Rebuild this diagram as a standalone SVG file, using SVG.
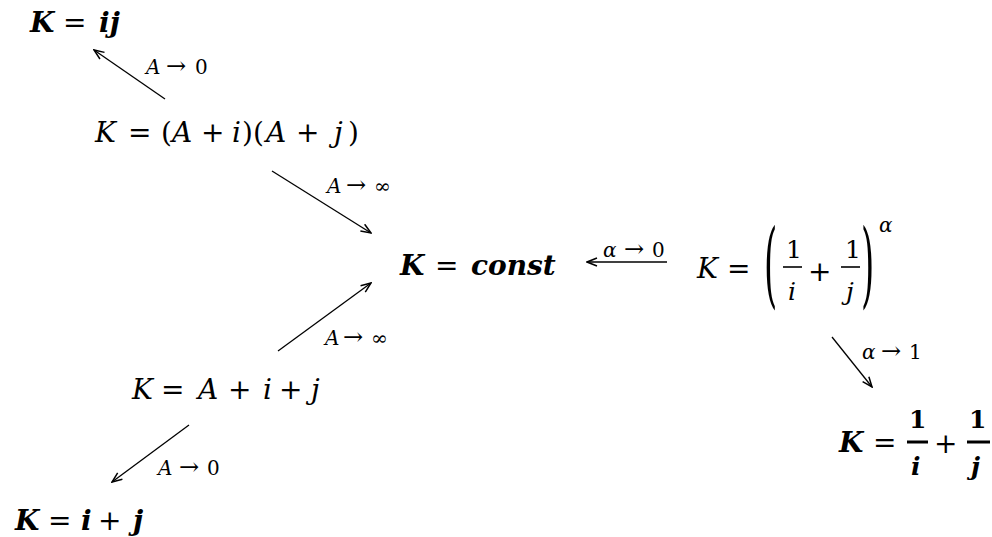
<svg xmlns="http://www.w3.org/2000/svg" width="992" height="537" viewBox="0 0 992 537">
<style>
  text { font-family: "DejaVu Serif", "Liberation Serif", serif; fill: #000; }
  .m { font-size: 28px; }
  .f { font-size: 25px; }
  .l { font-size: 20px; }
  .ar { font-size: 24px; }
  .it { font-style: italic; }
  .bi { font-style: italic; font-weight: bold; }
  .bu { font-weight: bold; }
  .conn line { stroke: #000; stroke-width: 1.3; fill: none; marker-end: url(#arr); }
  .bar { stroke: #000; stroke-width: 1.6; }
  .barb { stroke: #000; stroke-width: 3; }
</style>
<defs>
  <marker id="arr" viewBox="0 0 12 10" refX="11" refY="5" markerWidth="12" markerHeight="10" markerUnits="userSpaceOnUse" orient="auto">
    <path d="M1,1 L11,5 L1,9" fill="none" stroke="#000" stroke-width="1.5"/>
  </marker>
</defs>
<rect width="992" height="537" fill="#fff"/>

<g id="n-ij">
  <text class="m" y="32"><tspan class="bi" x="30">K</tspan><tspan x="63">=</tspan><tspan class="bi" x="99">ij</tspan></text>
</g>

<g id="n-prod">
  <text class="m" y="142"><tspan class="it" x="95">K</tspan><tspan x="128">=</tspan><tspan x="161">(</tspan><tspan class="it" x="172">A</tspan><tspan x="201">+</tspan><tspan class="it" x="232">i</tspan><tspan x="242">)</tspan><tspan x="253">(</tspan><tspan class="it" x="266">A</tspan><tspan x="296">+</tspan><tspan class="it" x="334">j</tspan><tspan x="348">)</tspan></text>
</g>

<g id="n-const">
  <text class="m" y="275"><tspan class="bi" x="400">K</tspan><tspan x="435">=</tspan><tspan class="bi" x="471">const</tspan></text>
</g>

<g id="n-power">
  <text class="m" y="278"><tspan class="it" x="697">K</tspan><tspan x="727">=</tspan></text>
  <text transform="translate(764,295.5) scale(1,2.74)" style="font-size:34px">(</text>
  <text class="f" y="258" x="786">1</text>
  <line class="bar" x1="783" y1="267" x2="802" y2="267"/>
  <text class="f it" y="300" x="788">i</text>
  <text class="m" y="281" x="808">+</text>
  <text class="f" y="258" x="845">1</text>
  <line class="bar" x1="841" y1="267" x2="860" y2="267"/>
  <text class="f it" y="300" x="846">j</text>
  <text transform="translate(861,295.5) scale(1,2.74)" style="font-size:34px">)</text>
  <text class="l it" x="879" y="232">α</text>
</g>

<g id="n-sum">
  <text class="m" y="399"><tspan class="it" x="132">K</tspan><tspan x="161">=</tspan><tspan class="it" x="198">A</tspan><tspan x="228">+</tspan><tspan class="it" x="263">i</tspan><tspan x="279">+</tspan><tspan class="it" x="311">j</tspan></text>
</g>

<g id="n-ipj">
  <text class="m" y="530"><tspan class="bi" x="15">K</tspan><tspan x="48">=</tspan><tspan class="bi" x="81">i</tspan><tspan x="98">+</tspan><tspan class="bi" x="133">j</tspan></text>
</g>

<g id="n-recip">
  <text class="m" y="452"><tspan class="bi" x="839">K</tspan><tspan x="873">=</tspan></text>
  <text class="f bu" y="428" x="909">1</text>
  <line class="barb" x1="907" y1="442" x2="928" y2="442"/>
  <text class="f bi" y="475" x="911">i</text>
  <text class="m" y="453" x="934">+</text>
  <text class="f bu" y="428" x="969">1</text>
  <line class="barb" x1="967" y1="442" x2="990" y2="442"/>
  <text class="f bi" y="475" x="971">j</text>
</g>

<g id="connectors" class="conn">
  <line x1="165" y1="99" x2="94" y2="50"/>
  <line x1="272" y1="171" x2="371" y2="233"/>
  <line x1="667" y1="262" x2="587" y2="262"/>
  <line x1="832" y1="337" x2="872" y2="387"/>
  <line x1="278" y1="351" x2="371" y2="283"/>
  <line x1="189" y1="425" x2="112" y2="482"/>
  <text class="l" y="74"><tspan class="it" x="146">A</tspan><tspan class="ar" x="166">→</tspan><tspan x="195">0</tspan></text>
  <text class="l" y="193"><tspan class="it" x="327">A</tspan><tspan class="ar" x="346">→</tspan><tspan x="374">∞</tspan></text>
  <text class="l" y="257"><tspan class="it" x="603">α</tspan><tspan class="ar" x="624">→</tspan><tspan x="652">0</tspan></text>
  <text class="l" y="359"><tspan class="it" x="862">α</tspan><tspan class="ar" x="881">→</tspan><tspan x="909">1</tspan></text>
  <text class="l" y="345"><tspan class="it" x="325">A</tspan><tspan class="ar" x="343">→</tspan><tspan x="371">∞</tspan></text>
  <text class="l" y="475"><tspan class="it" x="158">A</tspan><tspan class="ar" x="179">→</tspan><tspan x="207">0</tspan></text>
</g>
</svg>
